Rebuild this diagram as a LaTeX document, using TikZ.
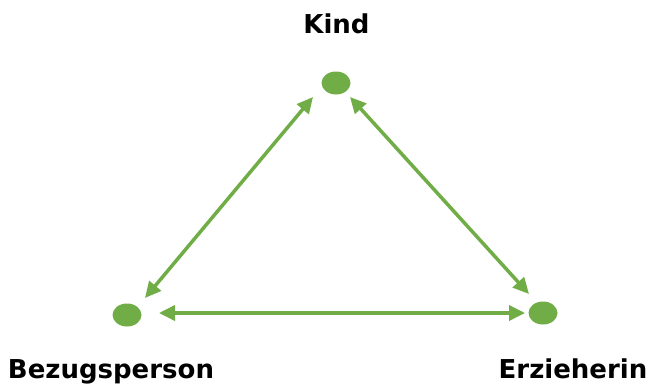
\documentclass[tikz,border=0pt]{standalone}
\usepackage{fontspec}
\setmainfont{DejaVu Sans}
\usetikzlibrary{arrows.meta,shapes.geometric}
\definecolor{grn}{HTML}{70AD47}
\begin{document}
\begin{tikzpicture}[x=1pt,y=-1pt,
  dot/.style={ellipse,fill=grn,minimum width=29pt,minimum height=23pt,inner sep=0pt},
  lbl/.style={font=\bfseries\fontsize{26}{30}\selectfont,text=black,anchor=base,inner sep=0pt},
  link/.style={draw=grn,line width=3.5pt,{Triangle[length=16pt,width=15pt]}-{Triangle[length=16pt,width=15pt]}}]
\useasboundingbox (0,0) rectangle (650,383);
\node[dot] (k) at (336,83) {};
\node[dot] (b) at (127,315) {};
\node[dot] (e) at (543,313) {};
\node[lbl] (kl) at (336.5,33) {Kind};
\node[lbl] (bl) at (111,378) {Bezugsperson};
\node[lbl] (el) at (573,378) {Erzieherin};
\coordinate (k1) at (313,97);
\coordinate (b1) at (145,298);
\coordinate (k2) at (350,97);
\coordinate (e1) at (529,294);
\coordinate (b2) at (159,313);
\coordinate (e2) at (525,313);
\draw[link] (k1) -- (b1);
\draw[link] (k2) -- (e1);
\draw[link] (b2) -- (e2);
\end{tikzpicture}
\end{document}
